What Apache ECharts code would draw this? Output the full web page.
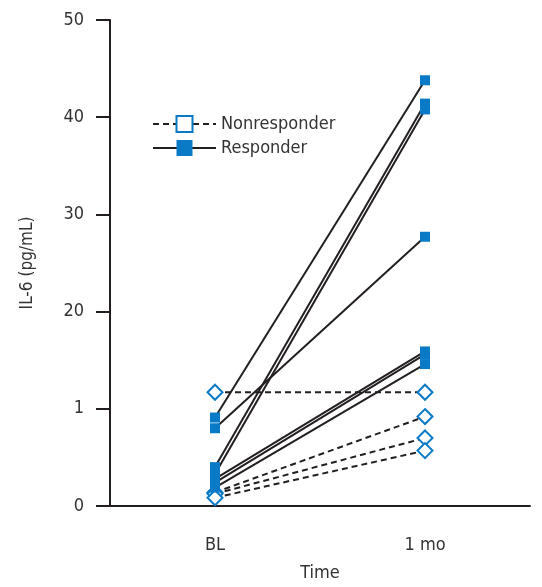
<!DOCTYPE html>
<html>
<head>
<meta charset="utf-8">
<script src="https://cdn.jsdelivr.net/npm/echarts@6/dist/echarts.min.js"></script>
<style>
html, body { margin: 0; padding: 0; background: #fff; overflow: hidden; }
#main { width: 542px; height: 587px; }
</style>
</head>
<body>
<div id="main"></div>
<script>
var times = ['BL', '1 mo'];
// tick labels as printed on the y axis
var yTickLabels = ['0', '1', '20', '30', '40', '50'];

// [BL, 1 mo] for each patient
var responders = [
    [9.1, 43.8],
    [8.0, 27.7],
    [4.0, 41.4],
    [3.3, 40.8],
    [2.8, 15.9],
    [2.4, 15.6],
    [1.9, 14.6]
];
var nonresponders = [
    [11.7, 11.7],
    [1.4, 9.2],
    [1.25, 7.0],
    [0.85, 5.7]
];

var dom = document.getElementById('main');
var myChart = echarts.init(dom);
var font = "'Liberation Sans Narrow', 'DejaVu Sans Condensed', 'Roboto', sans-serif";
var blue = '#0a7ac6';
var ink = '#231f20';
var dash = [6, 4];

// empty series first, only so the legend shows squares like the figure
var series = [
    {
        name: 'Nonresponder', type: 'line', data: [], symbol: 'rect',
        itemStyle: { color: '#fff', borderColor: blue, borderWidth: 2 },
        lineStyle: { color: ink, width: 2, type: dash }
    },
    {
        name: 'Responder', type: 'line', data: [], symbol: 'rect',
        itemStyle: { color: blue, borderWidth: 0 },
        lineStyle: { color: ink, width: 2, type: 'solid' }
    }
];
nonresponders.forEach(function (d) {
    series.push({
        name: 'Nonresponder',
        type: 'line',
        data: d,
        symbol: 'diamond',
        symbolSize: 15,
        itemStyle: { color: '#fff', borderColor: blue, borderWidth: 2 },
        lineStyle: { color: ink, width: 2, type: dash },
        z: 3
    });
});
responders.forEach(function (d) {
    series.push({
        name: 'Responder',
        type: 'line',
        data: d,
        symbol: 'rect',
        symbolSize: 10,
        itemStyle: { color: blue, borderWidth: 0 },
        lineStyle: { color: ink, width: 2, type: 'solid' },
        z: 4
    });
});

option = {
    animation: false,
    backgroundColor: '#fff',
    textStyle: { fontFamily: font },
    grid: { left: 110, right: 12, top: 20, bottom: 77 },
    legend: {
        data: ['Nonresponder', 'Responder'],
        orient: 'vertical',
        left: 152,
        top: 115,
        padding: 0,
        itemWidth: 63,
        itemHeight: 20,
        itemGap: 6,
        textStyle: { fontFamily: font, fontSize: 18, color: '#333' }
    },
    xAxis: {
        type: 'category',
        data: times,
        boundaryGap: true,
        name: 'Time',
        nameLocation: 'middle',
        nameGap: 58,
        nameTextStyle: { fontFamily: font, fontSize: 18, color: '#333' },
        axisLine: { lineStyle: { color: ink, width: 2 } },
        axisTick: { length: 13, lineStyle: { color: ink, width: 2 } },
        axisLabel: { margin: 30, fontFamily: font, fontSize: 18, color: '#333' }
    },
    yAxis: {
        type: 'value',
        min: 0,
        max: 50,
        interval: 10,
        name: 'IL-6 (pg/mL)',
        nameLocation: 'middle',
        nameGap: 74,
        nameTextStyle: { fontFamily: font, fontSize: 17, color: '#333' },
        splitLine: { show: false },
        axisLine: { show: true, lineStyle: { color: ink, width: 2 } },
        axisTick: { show: true, length: 14, lineStyle: { color: ink, width: 2 } },
        axisLabel: {
            margin: 26,
            fontFamily: font,
            fontSize: 18,
            color: '#333',
            formatter: function (v) { return yTickLabels[Math.round(v / 10)]; }
        }
    },
    series: series
};

myChart.setOption(option);
</script>
</body>
</html>
